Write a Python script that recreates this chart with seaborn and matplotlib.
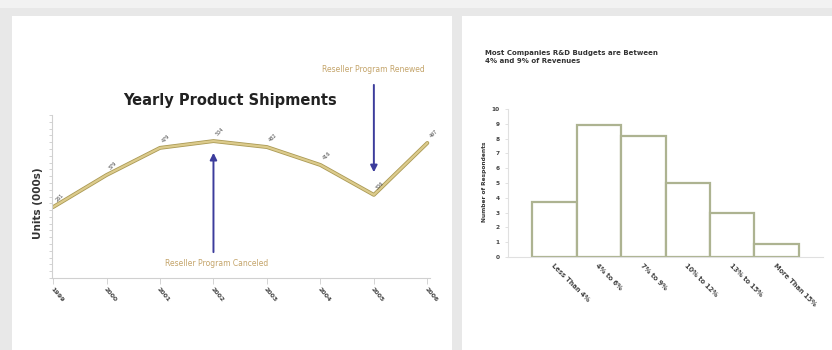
import matplotlib
matplotlib.use("Agg")
import matplotlib.pyplot as plt
import matplotlib.patheffects as pe
from matplotlib.patches import Rectangle
import seaborn as sns
import pandas as pd

# ---- data ----
years = [1999, 2000, 2001, 2002, 2003, 2004, 2005, 2006]
shipments = [261, 379, 479, 504, 482, 416, 306, 497]

budget_cats = ["Less Than 4%", "4% to 6%", "7% to 9%", "10% to 12%", "13% to 15%", "More Than 15%"]
respondents = [3.7, 8.9, 8.2, 5.0, 3.0, 0.9]

sns.set_theme(style="white")
plt.rcParams['font.family'] = ['DejaVu Sans']

W, H = 832, 350
fig = plt.figure(figsize=(W / 100, H / 100), dpi=100, facecolor="#e8e8e8")

def fx(px):
    return px / W

def fy(py):
    return 1 - py / H

# slide panels on a background axes
bg = fig.add_axes([0, 0, 1, 1], zorder=-10)
bg.set_xlim(0, W)
bg.set_ylim(H, 0)
bg.axis("off")
bg.add_patch(Rectangle((0, 0), W, 8, facecolor="#f2f2f2", edgecolor="none"))
bg.add_patch(Rectangle((12, 16), 440, 340, facecolor="white", edgecolor="none"))
bg.add_patch(Rectangle((462, 16), 380, 340, facecolor="white", edgecolor="none"))

# ---- left: line chart ----
ax1 = fig.add_axes([fx(52), fy(278), fx(430) - fx(52), (278 - 115) / H])
ax1.set_facecolor("none")
df1 = pd.DataFrame({"Year": years, "Units": shipments})
sns.lineplot(data=df1, x="Year", y="Units", ax=ax1, color="#dccb8c", linewidth=1.6,
             path_effects=[pe.Stroke(linewidth=2.8, foreground="#ab9a55"), pe.Normal()])
ax1.set_xlim(1998.98, 2006.05)
ax1.set_ylim(0, 600)
ax1.set_xticks(years)
ax1.set_xticklabels([str(y) for y in years], rotation=-50, ha="left", rotation_mode="anchor",
                    fontsize=4.5, fontweight="bold", color="#444444")
ax1.set_yticks(range(0, 601, 25))
ax1.set_yticklabels([])
ax1.tick_params(axis="y", length=2, color="#cccccc", width=0.6, left=True)
ax1.tick_params(axis="x", length=4, color="#cccccc", width=0.6, pad=2, bottom=True)
for s in ["top", "right"]:
    ax1.spines[s].set_visible(False)
for s in ["left", "bottom"]:
    ax1.spines[s].set_color("#d0d0d0")
    ax1.spines[s].set_linewidth(0.8)
ax1.set_xlabel("")
ax1.set_ylabel("")
ax1.text(-0.037, 0.46, "Units (000s)", transform=ax1.transAxes, rotation=90,
         ha="center", va="center", fontsize=7.5, fontweight="bold", color="#333333")
ax1.text(0.471, 1.092, "Yearly Product Shipments", transform=ax1.transAxes,
         ha="center", va="center", fontsize=10.5, fontweight="bold", color="#222222")
for yr, v in zip(years, shipments):
    ax1.annotate(str(v), (yr, v), xytext=(1, 3), textcoords="offset points", rotation=45,
                 ha="left", va="bottom", fontsize=3.5, color="#444444", annotation_clip=False)

arrow_kw = dict(arrowstyle="-|>", color="#3c3c9c", lw=1.4, mutation_scale=10)
ax1.annotate("", xy=(2002, 471), xytext=(2002, 85), arrowprops=arrow_kw, annotation_clip=False)
ax1.text(2002.05, 55, "Reseller Program Canceled", ha="center", va="center",
         fontsize=5.5, color="#c4a46a")
ax1.annotate("", xy=(2005, 379), xytext=(2005, 721), arrowprops=arrow_kw, annotation_clip=False)
ax1.text(2005.0, 766, "Reseller Program Renewed", ha="center", va="center",
         fontsize=5.5, color="#c4a46a", clip_on=False)

# ---- right: bar chart ----
ax2 = fig.add_axes([fx(508), fy(257), fx(823) - fx(508), (257 - 109) / H])
ax2.set_facecolor("none")
df2 = pd.DataFrame({"Budget": budget_cats, "Respondents": respondents})
sns.barplot(data=df2, x="Budget", y="Respondents", ax=ax2, color="white", saturation=1,
            edgecolor="#adb391", linewidth=1.6, width=1.0)
ax2.set_xlim(-1.04, 6.04)
ax2.set_ylim(0, 10)
ax2.set_yticks(range(0, 11))
ax2.set_yticklabels([str(i) for i in range(0, 11)], fontsize=4.2, fontweight="bold", color="#444444")
ax2.set_xticks(range(len(budget_cats)))
ax2.set_xticklabels(budget_cats, rotation=-45, ha="left", rotation_mode="anchor",
                    fontsize=4.8, fontweight="bold", color="#444444")
ax2.tick_params(axis="y", length=2, color="#dddddd", width=0.6, pad=4, left=True)
ax2.tick_params(axis="x", length=0, pad=4)
for s in ["top", "right"]:
    ax2.spines[s].set_visible(False)
for s in ["left", "bottom"]:
    ax2.spines[s].set_color("#e0e0e0")
    ax2.spines[s].set_linewidth(0.8)
ax2.set_xlabel("")
ax2.set_ylabel("")
ax2.text(-0.076, 0.51, "Number of Respondents", transform=ax2.transAxes, rotation=90,
         ha="center", va="center", fontsize=4.2, fontweight="bold", color="#333333")
ax2.text(-0.073, 1.40, "Most Companies R&D Budgets are Between\n4% and 9% of Revenues",
         transform=ax2.transAxes, ha="left", va="top", fontsize=5.0, fontweight="bold",
         color="#333333", linespacing=1.5)

fig.savefig("out.png", dpi=100, facecolor=fig.get_facecolor())
